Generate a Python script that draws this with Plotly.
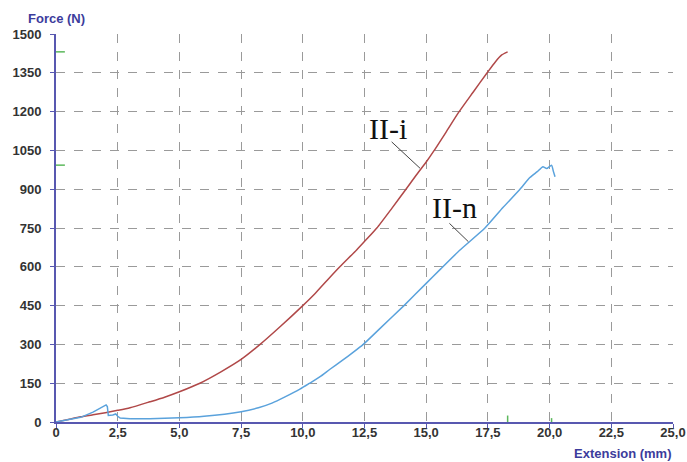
import plotly.graph_objects as go

# II-i (red) curve
ext_i = [0, 0.5, 1.0, 1.5, 2.0, 2.5, 3.0, 3.8, 4.4, 5.0, 5.83, 6.7, 7.5, 8.27, 9.1, 10.0,
         10.5, 11.0, 11.5, 12.18, 12.6, 13.0, 13.6, 14.18, 14.6, 15.0, 15.29, 15.8, 16.3,
         16.9, 17.47, 17.8, 18.06, 18.3]
force_i = [0, 10, 20, 28, 36, 45, 55, 78, 96, 117, 150, 195, 242, 300, 370, 450,
           497, 549, 600, 665, 708, 750, 825, 900, 955, 1005, 1045, 1120, 1195,
           1275, 1350, 1392, 1419, 1431]

# II-n (blue) curve
ext_n = [0, 0.5, 1.0, 1.5, 1.8, 2.03, 2.08, 2.12, 2.3, 2.42, 2.5, 2.6, 3.0, 3.8, 5.0,
         6.0, 7.5, 8.2, 8.75, 9.3, 9.9, 10.28, 10.7, 11.1, 11.6, 12.05, 12.45, 13.1,
         14.1, 15.0, 15.6, 16.37, 17.38, 18.1, 18.8, 19.2, 19.5, 19.73, 19.88,
         20.08, 20.15, 20.22]
force_n = [0, 8, 18, 38, 55, 66, 60, 25, 27, 31, 22, 15, 13, 13, 16,
           22, 40, 55, 73, 98, 128, 150, 175, 204, 238, 270, 300, 359,
           450, 536, 593, 665, 750, 828, 900, 945, 968, 987, 980,
           993, 970, 948]

x_ticks = [0, 2.5, 5.0, 7.5, 10.0, 12.5, 15.0, 17.5, 20.0, 22.5, 25.0]
x_ticklabels = ["0", "2,5", "5,0", "7,5", "10,0", "12,5", "15,0", "17,5", "20,0", "22,5", "25,0"]
y_ticks = [0, 150, 300, 450, 600, 750, 900, 1050, 1200, 1350, 1500]

RED = "#b04848"
BLUE = "#5aa2dc"
AXIS = "#5858b0"
GREEN = "#5cb85c"
FONT = "Liberation Sans, Arial, sans-serif"

fig = go.Figure()
fig.add_trace(go.Scatter(x=ext_i, y=force_i, mode="lines",
                         line=dict(color=RED, width=1.5, shape="spline", smoothing=0.6),
                         showlegend=False, hoverinfo="skip"))
# blue: sharp early drops drawn straight, the smooth rise drawn as a spline
split = ext_n.index(3.0)
fig.add_trace(go.Scatter(x=ext_n[:split + 1], y=force_n[:split + 1], mode="lines",
                         line=dict(color=BLUE, width=1.5),
                         showlegend=False, hoverinfo="skip"))
fig.add_trace(go.Scatter(x=ext_n[split:], y=force_n[split:], mode="lines",
                         line=dict(color=BLUE, width=1.5, shape="spline", smoothing=0.5),
                         showlegend=False, hoverinfo="skip"))

# green peak markers on axes (from data maxima)
shapes = []
for xs, ys, h in [(ext_i, force_i, 25), (ext_n, force_n, 15)]:
    k = ys.index(max(ys))
    shapes.append(dict(type="line", xref="x", yref="y", x0=0, x1=0.36, y0=ys[k], y1=ys[k],
                       line=dict(color=GREEN, width=1.5)))
    shapes.append(dict(type="line", xref="x", yref="y", x0=xs[k], x1=xs[k], y0=0, y1=h,
                       line=dict(color=GREEN, width=1.5)))

# leader lines for labels
shapes.append(dict(type="line", xref="x", yref="y", x0=13.60, y0=1083, x1=14.75, y1=981,
                   line=dict(color="#444444", width=1)))
shapes.append(dict(type="line", xref="x", yref="y", x0=15.94, y0=768, x1=16.71, y1=697,
                   line=dict(color="#444444", width=1)))

W, H = 687, 462
L, R, T, B = 56, 14, 34, 40
pw, ph = W - L - R, H - T - B

def px(xp):
    return (xp - L) / pw

def py(yp):
    return (H - B - yp) / ph

annotations = [
    dict(x=13.45, y=1133, xref="x", yref="y", text="II-i", showarrow=False,
         font=dict(family="Liberation Serif, Times New Roman, serif", size=30, color="#111111")),
    dict(x=16.13, y=831, xref="x", yref="y", text="II-n", showarrow=False,
         font=dict(family="Liberation Serif, Times New Roman, serif", size=30, color="#111111")),
    dict(x=px(56), y=py(19), xref="paper", yref="paper", text="<b>Force (N)</b>",
         showarrow=False, xanchor="center", yanchor="middle",
         font=dict(family=FONT, size=13, color="#3c3c9c")),
    dict(x=px(674), y=py(453), xref="paper", yref="paper", text="<b>Extension (mm)</b>",
         showarrow=False, xanchor="right", yanchor="middle",
         font=dict(family=FONT, size=13, color="#3c3c9c")),
]

fig.update_layout(
    width=W, height=H,
    margin=dict(l=L, r=R, t=T, b=B, autoexpand=False),
    paper_bgcolor="white", plot_bgcolor="white",
    shapes=shapes, annotations=annotations,
    font=dict(family=FONT),
)
fig.update_xaxes(
    range=[0, 25], tickvals=x_ticks, ticktext=["<b>%s</b>" % t for t in x_ticklabels],
    automargin=False,
    showgrid=True, gridcolor="#9a9a9a", griddash="dash", gridwidth=1,
    showline=True, linecolor=AXIS, linewidth=2, zeroline=False,
    ticks="outside", ticklen=4, tickcolor=AXIS, tickwidth=1,
    tickfont=dict(family=FONT, size=13, color="#333333"),
    ticklabelstandoff=-7,
)
fig.update_yaxes(
    range=[0, 1500], tickvals=y_ticks, ticktext=["<b>%d</b>" % v for v in y_ticks],
    automargin=False,
    showgrid=True, gridcolor="#9a9a9a", griddash="dash", gridwidth=1,
    showline=True, linecolor=AXIS, linewidth=2, zeroline=False,
    ticks="outside", ticklen=4, tickcolor=AXIS, tickwidth=1,
    tickfont=dict(family=FONT, size=13, color="#333333"),
    ticklabelstandoff=6,
)
fig.write_html(
    "out.html",
    config={"displayModeBar": False},
    post_script="document.body.style.margin='0';document.documentElement.style.overflow='hidden';",
)
